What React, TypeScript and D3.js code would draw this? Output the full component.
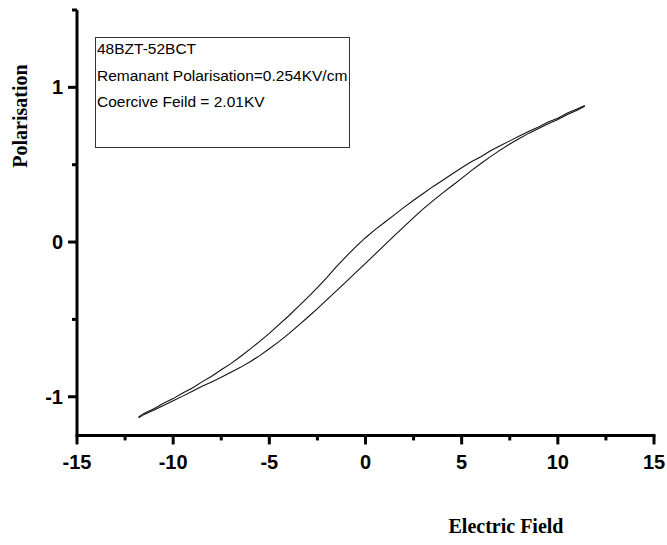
import React from "react";
import * as d3 from "d3";

const upperX = [11.4, 11.0, 10.5, 10.0, 9.5, 9.0, 8.5, 8.0, 7.5, 7.0, 6.5, 6.0, 5.5, 5.0, 4.5, 4.0, 3.5, 3.0, 2.5, 2.0, 1.5, 1.0, 0.5, 0.0, -0.5, -1.0, -1.5, -2.0, -2.5, -3.0, -3.5, -4.0, -4.5, -5.0, -5.5, -6.0, -6.5, -7.0, -7.5, -8.0, -8.5, -9.0, -9.5, -10.0, -10.5, -11.0, -11.5, -11.8];
const upperY = [0.882, 0.86, 0.834, 0.8, 0.776, 0.744, 0.716, 0.686, 0.654, 0.622, 0.59, 0.552, 0.519, 0.48, 0.44, 0.398, 0.358, 0.314, 0.27, 0.224, 0.176, 0.128, 0.08, 0.028, -0.03, -0.092, -0.158, -0.228, -0.294, -0.358, -0.418, -0.478, -0.534, -0.59, -0.642, -0.692, -0.74, -0.786, -0.826, -0.868, -0.904, -0.944, -0.976, -1.012, -1.042, -1.078, -1.106, -1.13];

const lowerX = [-11.8, -11.5, -11.0, -10.5, -10.0, -9.5, -9.0, -8.5, -8.0, -7.5, -7.0, -6.5, -6.0, -5.5, -5.0, -4.5, -4.0, -3.5, -3.0, -2.5, -2.0, -1.5, -1.0, -0.5, 0.0, 0.5, 1.0, 1.5, 2.0, 2.5, 3.0, 3.5, 4.0, 4.5, 5.0, 5.5, 6.0, 6.5, 7.0, 7.5, 8.0, 8.5, 9.0, 9.5, 10.0, 10.5, 11.0, 11.4];
const lowerY = [-1.136, -1.114, -1.086, -1.056, -1.026, -0.996, -0.964, -0.932, -0.904, -0.874, -0.842, -0.81, -0.774, -0.734, -0.69, -0.644, -0.594, -0.54, -0.486, -0.43, -0.372, -0.314, -0.256, -0.196, -0.138, -0.078, -0.018, 0.042, 0.1, 0.158, 0.214, 0.266, 0.316, 0.364, 0.412, 0.462, 0.508, 0.552, 0.594, 0.634, 0.67, 0.704, 0.734, 0.764, 0.792, 0.824, 0.852, 0.878];

const xMajor = [-15, -10, -5, 0, 5, 10, 15];
const xMinor = [-12.5, -7.5, -2.5, 2.5, 7.5, 12.5];
const yMajor = [-1, 0, 1];
const yMinor = [-0.5, 0.5, 1.5];

const legendLines = ["48BZT-52BCT", "Remanant Polarisation=0.254KV/cm", "Coercive Feild = 2.01KV"];

export default function App() {
  const W = 667, H = 545;
  const yMin = -1.25, yMax = 1.5;
  const left = 77, right = 654, top = 10;
  const unit = 154.7;
  const bottom = top + (yMax - yMin) * unit;
  const x = d3.scaleLinear().domain([-15, 15]).range([left, right]);
  const y = d3.scaleLinear().domain([yMin, yMax]).range([bottom, top]);
  const line = d3.line<[number, number]>().x(d => x(d[0])).y(d => y(d[1]));
  const up = upperX.map((v, i) => [v, upperY[i]] as [number, number]);
  const lo = lowerX.map((v, i) => [v, lowerY[i]] as [number, number]);
  const axisW = 3;
  const sans = "'Liberation Sans', Arial, sans-serif";
  const serif = "'Liberation Serif', 'Times New Roman', serif";
  return (
    <svg width={W} height={H} style={{ position: "absolute", left: 0, top: 0 }}>
      <rect width={W} height={H} fill="#fff" />
      <path d={line(up) || ""} fill="none" stroke="#111" strokeWidth={1.1} />
      <path d={line(lo) || ""} fill="none" stroke="#111" strokeWidth={1.1} />
      <line x1={x(-15)} x2={x(-15)} y1={y(yMax)} y2={y(yMin)} stroke="#000" strokeWidth={axisW} />
      <line x1={x(-15) - axisW / 2} x2={x(15) + axisW / 2} y1={y(yMin)} y2={y(yMin)} stroke="#000" strokeWidth={axisW} />
      {xMajor.map(v => (
        <g key={"xm" + v}>
          <line x1={x(v)} x2={x(v)} y1={y(yMin)} y2={y(yMin) + 9} stroke="#000" strokeWidth={axisW} />
          <text x={x(v)} y={y(yMin) + 34} textAnchor="middle" fontFamily={sans} fontWeight="bold" fontSize={20}>{v}</text>
        </g>
      ))}
      {xMinor.map(v => (
        <line key={"xn" + v} x1={x(v)} x2={x(v)} y1={y(yMin)} y2={y(yMin) + 5} stroke="#000" strokeWidth={axisW} />
      ))}
      {yMajor.map(v => (
        <g key={"ym" + v}>
          <line x1={x(-15)} x2={x(-15) - 9} y1={y(v)} y2={y(v)} stroke="#000" strokeWidth={axisW} />
          <text x={x(-15) - 14} y={y(v) + 7} textAnchor="end" fontFamily={sans} fontWeight="bold" fontSize={20}>{v}</text>
        </g>
      ))}
      {yMinor.map(v => (
        <line key={"yn" + v} x1={x(-15)} x2={x(-15) - 5} y1={y(v)} y2={y(v)} stroke="#000" strokeWidth={axisW} />
      ))}
      <text x={506} y={533} textAnchor="middle" fontFamily={serif} fontWeight="bold" fontSize={20}>Electric Field</text>
      <text transform={`translate(27,${116}) rotate(-90)`} textAnchor="middle" fontFamily={serif} fontWeight="bold" fontSize={20}>Polarisation</text>
      <rect x={95.5} y={37.5} width={254} height={110} fill="none" stroke="#333" strokeWidth={1} />
      {legendLines.map((t, i) => (
        <text key={t} x={97} y={54 + i * 26.5} fontFamily={sans} fontSize={15.5}>{t}</text>
      ))}
    </svg>
  );
}
